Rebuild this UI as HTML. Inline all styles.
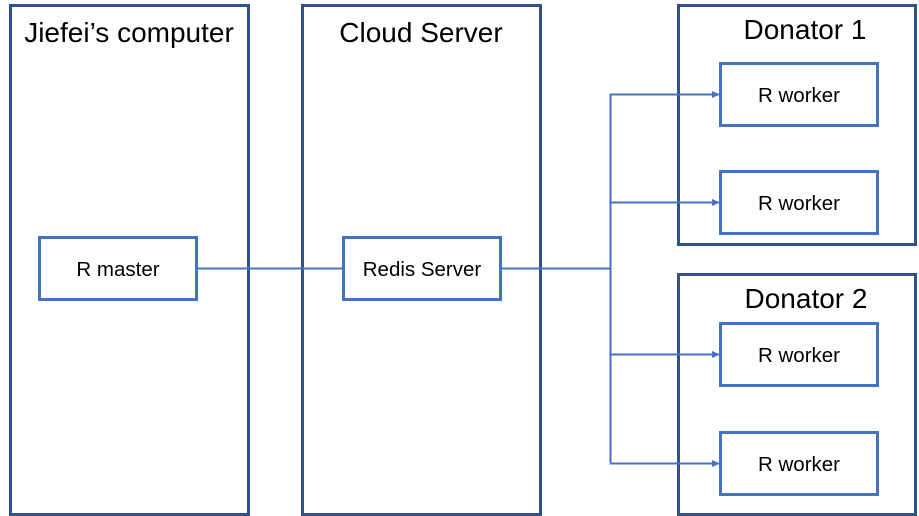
<!DOCTYPE html>
<html><head><meta charset="utf-8"><style>
html,body{margin:0;padding:0;background:#fff;}
svg{display:block;}
text{font-family:"Liberation Sans",sans-serif;fill:#000;}
</style></head><body>
<svg width="919" height="516" viewBox="0 0 919 516">
<defs><marker id="a" markerWidth="8" markerHeight="8" refX="7" refY="4" orient="auto" markerUnits="userSpaceOnUse"><path d="M0,0.5 L8,4 L0,7.5 z" fill="#4472C4"/></marker></defs>
<g fill="none" stroke="#2F528F" stroke-width="3">
<rect x="10.5" y="5.5" width="238" height="509"/>
<rect x="302.5" y="5.5" width="238" height="509"/>
<rect x="678.5" y="5.5" width="237" height="239"/>
<rect x="678.5" y="274.5" width="237" height="240"/>
</g>
<g fill="none" stroke="#4472C4" stroke-width="2">
<path d="M197,268.5 H343"/>
<path d="M500,268.5 H610.5"/>
<path d="M610.5,94 V463"/>
<path d="M610,94.5 H719" marker-end="url(#a)"/>
<path d="M610,202.5 H719" marker-end="url(#a)"/>
<path d="M610,354.5 H719" marker-end="url(#a)"/>
<path d="M610,463.5 H719" marker-end="url(#a)"/>
</g>
<g fill="#fff" stroke="#4472C4" stroke-width="3">
<rect x="39.5" y="237.5" width="157" height="62"/>
<rect x="343.5" y="237.5" width="157" height="62"/>
<rect x="720.5" y="63.5" width="157" height="62"/>
<rect x="720.5" y="171.5" width="157" height="62"/>
<rect x="720.5" y="323.5" width="157" height="62"/>
<rect x="720.5" y="432.5" width="157" height="62"/>
</g>
<g font-size="28" text-anchor="middle">
<text x="129" y="42">Jiefei’s computer</text>
<text x="421" y="42">Cloud Server</text>
<text x="805" y="39">Donator 1</text>
<text x="806" y="308">Donator 2</text>
</g>
<g font-size="20.5" text-anchor="middle">
<text x="118" y="276">R master</text>
<text x="422" y="276">Redis Server</text>
<text x="799" y="102">R worker</text>
<text x="799" y="210">R worker</text>
<text x="799" y="362">R worker</text>
<text x="799" y="471">R worker</text>
</g>
</svg>
</body></html>
